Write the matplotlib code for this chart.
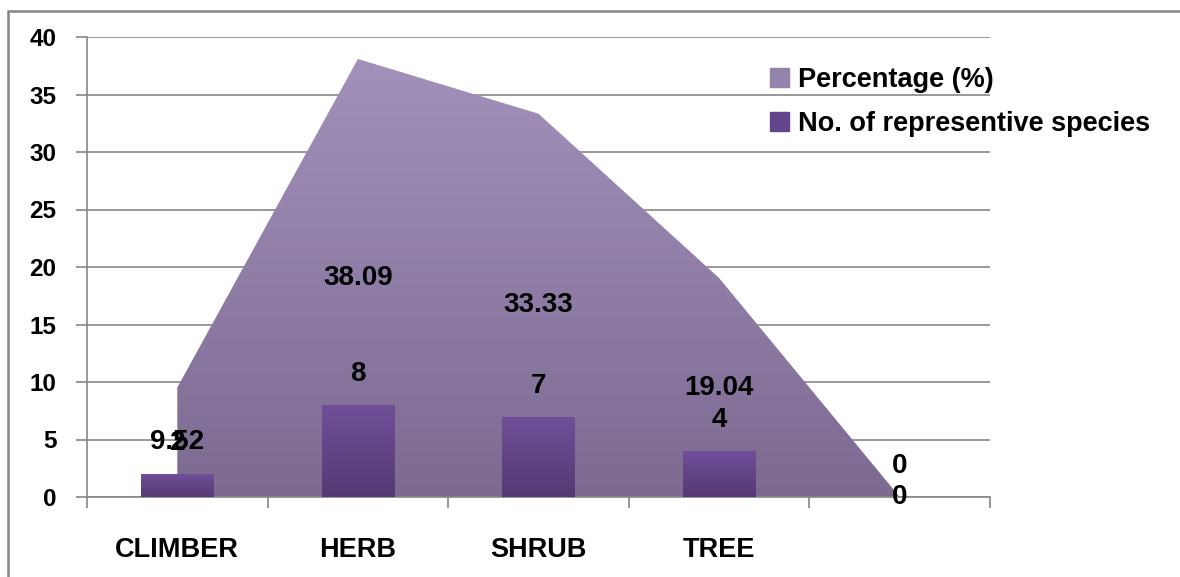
import matplotlib.pyplot as plt
import numpy as np
from matplotlib.patches import Rectangle, Patch

# data
categories = ['CLIMBER', 'HERB', 'SHRUB', 'TREE', '']
percentage = [9.52, 38.09, 33.33, 19.04, 0]
species = [2, 8, 7, 4, 0]
pct_labels = ['9.52', '38.09', '33.33', '19.04', '0']

plt.rcParams['font.family'] = ['Liberation Sans', 'DejaVu Sans']
plt.rcParams['font.weight'] = 'bold'
fs_lab = 20    # data labels
fs_cat = 19.5  # category names + legend
fs_tick = 17.5   # y axis numbers

fig = plt.figure(figsize=(11.8, 5.77), dpi=100)
ax = fig.add_axes([87 / 1180, 1 - 497 / 577, 903 / 1180, 460 / 577])

x = np.arange(len(categories))
grid_col = '#868686'

# area (percentage) with vertical gradient
area = ax.fill_between(x, 0, percentage, color='none', lw=0, zorder=2)
grad = np.linspace(0, 1, 256).reshape(-1, 1)
top_c = np.array([0xa4, 0x93, 0xbd]) / 255
bot_c = np.array([0x7c, 0x6a, 0x91]) / 255
img = top_c[None, None, :] * (1 - grad[:, :, None]) + bot_c[None, None, :] * grad[:, :, None]
im = ax.imshow(img, extent=[-0.5, 4.5, 0, 40], aspect='auto', zorder=2, origin='upper')
im.set_clip_path(area.get_paths()[0], transform=ax.transData)

# bars with their own gradient
bars = ax.bar(x, species, width=0.4, color='none', zorder=3)
btop = np.array([0x70, 0x4f, 0x98]) / 255
bbot = np.array([0x55, 0x39, 0x74]) / 255
bimg = btop[None, None, :] * (1 - grad[:, :, None]) + bbot[None, None, :] * grad[:, :, None]
for b in bars:
    if b.get_height() <= 0:
        continue
    bi = ax.imshow(bimg, extent=[b.get_x(), b.get_x() + b.get_width(), 0, b.get_height()],
                   aspect='auto', zorder=3, origin='upper')
    bi.set_clip_path(b)

# data labels
for xi, v, lab in zip(x, percentage, pct_labels):
    ax.text(xi, v / 2, lab, ha='center', va='center', fontsize=fs_lab, fontweight='bold', zorder=5)
for xi, v in zip(x, species):
    ax.annotate(str(v), (xi, v), xytext=(0, 22), textcoords='offset points',
                ha='center', va='center', fontsize=fs_lab, fontweight='bold', zorder=5)

ax.set_xlim(-0.5, 4.5)
ax.set_ylim(0, 40)
ax.set_yticks(np.arange(0, 41, 5))
ax.yaxis.grid(True, color=grid_col, lw=1.2, zorder=1)
ax.set_axisbelow(True)

ax.set_xticks(np.arange(-0.5, 4.6, 1))
ax.set_xticklabels([])
ax.set_xticks(x, minor=True)
ax.set_xticklabels(categories, minor=True, fontweight='bold')
ax.tick_params(axis='x', which='major', length=8, color=grid_col, width=1.2)
ax.tick_params(axis='x', which='minor', length=0, pad=29, labelsize=fs_cat)
ax.tick_params(axis='y', length=8, color=grid_col, width=1.2, labelsize=fs_tick, pad=14)
for t in ax.get_yticklabels():
    t.set_fontweight('bold')

for s in ['top', 'right']:
    ax.spines[s].set_visible(False)
ax.spines['left'].set_color(grid_col)
ax.spines['bottom'].set_color(grid_col)
ax.spines['left'].set_linewidth(1.2)
ax.spines['bottom'].set_linewidth(1.2)

handles = [Patch(color='#9483ab', label='Percentage (%)'),
           Patch(color='#62458a', label='No. of representive species')]
ax.legend(handles=handles, loc='upper left', bbox_to_anchor=(0.756, 0.935), frameon=False,
          borderpad=0, borderaxespad=0,
          handlelength=0.7, handleheight=0.7, handletextpad=0.35,
          labelspacing=0.65, prop={'weight': 'bold', 'size': fs_cat})

# outer chart frame
fig.patches.append(Rectangle((8 / 1180, -0.1), 1.2, 1.1 - 11 / 577, transform=fig.transFigure,
                             fill=False, edgecolor=grid_col, lw=1.8))

fig.savefig('out.png', dpi=100)
